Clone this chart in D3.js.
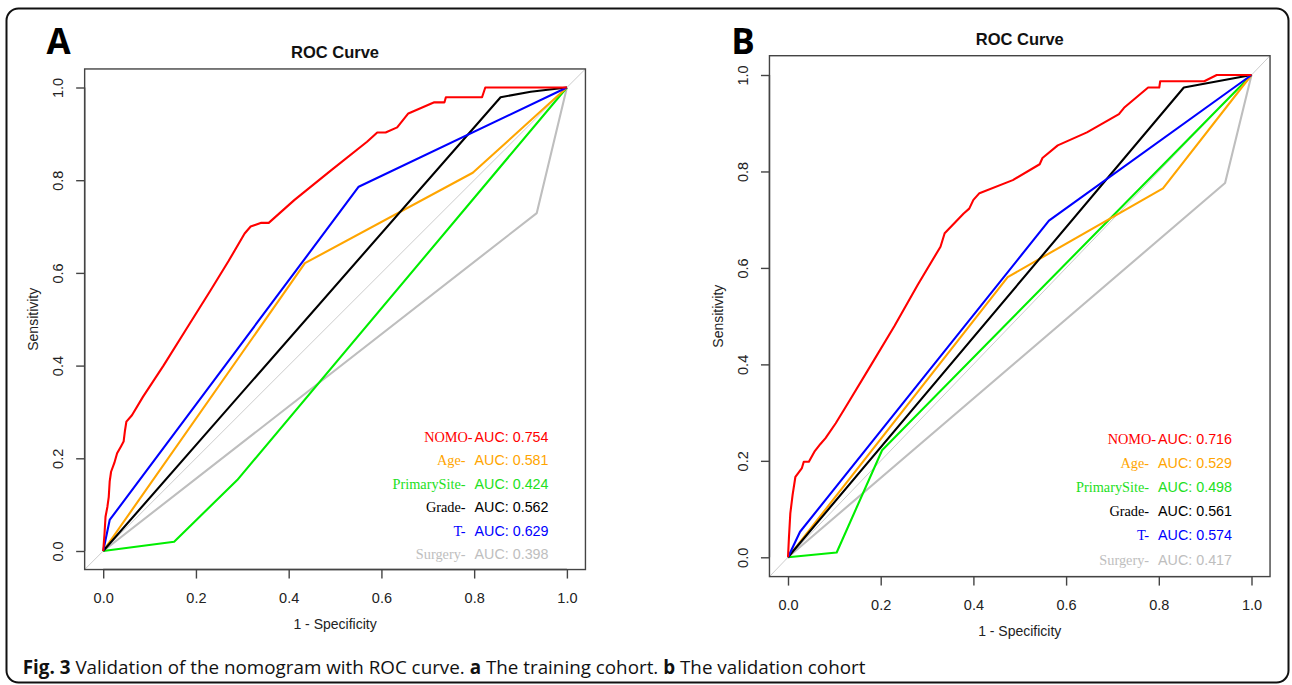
<!DOCTYPE html>
<html>
<head>
<meta charset="utf-8">
<script src="https://cdn.jsdelivr.net/npm/d3@7/dist/d3.min.js"></script>
<style>
  html, body { margin: 0; padding: 0; background: #fff; }
  svg { display: block; }
</style>
</head>
<body>
<svg id="chart" width="1292" height="685"></svg>
<script>
// ---------------- DATA ----------------
const seriesNames   = ["NOMO", "Age", "PrimarySite", "Grade", "T", "Surgery"];
const legendLabels  = ["NOMO-", "Age-", "PrimarySite-", "Grade-", "T-", "Surgery-"];
const seriesColors  = ["#FF0000", "#FFA500", "#00EE00", "#000000", "#0000FF", "#BEBEBE"];
const aucTrain      = ["0.754", "0.581", "0.424", "0.562", "0.629", "0.398"];
const aucValid      = ["0.716", "0.529", "0.498", "0.561", "0.574", "0.417"];
const tickValues    = [0, 0.2, 0.4, 0.6, 0.8, 1.0];
const tickLabels    = ["0.0", "0.2", "0.4", "0.6", "0.8", "1.0"];
const panelLetters  = ["A", "B"];
const plotTitle     = "ROC Curve";
const xTitle        = "1 - Specificity";
const yTitle        = "Sensitivity";

// Training cohort (panel A): [1 - specificity, sensitivity]
const trainNOMO = [[0,0],[0.003,0.04],[0.005,0.074],[0.009,0.095],[0.012,0.117],[0.014,0.15],[0.017,0.171],
  [0.024,0.19],[0.030,0.211],[0.038,0.225],[0.044,0.236],[0.047,0.26],[0.05,0.279],[0.062,0.293],[0.086,0.333],
  [0.13,0.40],[0.18,0.48],[0.23,0.56],[0.27,0.625],[0.305,0.685],[0.318,0.700],[0.341,0.708],[0.357,0.708],
  [0.412,0.757],[0.49,0.82],[0.569,0.883],[0.591,0.903],[0.609,0.903],[0.634,0.914],[0.658,0.944],[0.714,0.968],
  [0.736,0.968],[0.739,0.979],[0.817,0.979],[0.824,1.0],[1,1]];
const trainAge     = [[0,0],[0.435,0.621],[0.797,0.816],[1,1]];
const trainPS      = [[0,0],[0.153,0.02],[0.251,0.116],[0.289,0.153],[1,1]];
const trainGrade   = [[0,0],[0.857,0.979],[0.922,0.991],[1,1]];
const trainT       = [[0,0],[0.014,0.067],[0.551,0.786],[1,1]];
const trainSurgery = [[0,0],[0.935,0.729],[1,1]];

// Validation cohort (panel B)
const validNOMO = [[0,0],[0.002,0.04],[0.005,0.091],[0.010,0.13],[0.016,0.167],[0.030,0.185],[0.034,0.198],
  [0.045,0.198],[0.057,0.219],[0.070,0.235],[0.081,0.247],[0.103,0.278],[0.129,0.319],[0.18,0.40],[0.23,0.48],
  [0.28,0.565],[0.329,0.644],[0.338,0.672],[0.365,0.699],[0.379,0.713],[0.391,0.723],[0.400,0.741],[0.413,0.755],
  [0.485,0.782],[0.543,0.815],[0.549,0.828],[0.582,0.854],[0.645,0.881],[0.714,0.919],[0.725,0.932],[0.777,0.974],
  [0.801,0.974],[0.803,0.987],[0.898,0.987],[0.925,1.0],[1,1]];
const validAge     = [[0,0],[0.474,0.581],[0.809,0.765],[1,1]];
const validPS      = [[0,0],[0.105,0.01],[0.203,0.222],[1,1]];
const validGrade   = [[0,0],[0.854,0.974],[1,1]];
const validT       = [[0,0],[0.026,0.053],[0.563,0.698],[1,1]];
const validSurgery = [[0,0],[0.943,0.776],[1,1]];

const trainSeries = [trainNOMO, trainAge, trainPS, trainGrade, trainT, trainSurgery];
const validSeries = [validNOMO, validAge, validPS, validGrade, validT, validSurgery];

// ---------------- LAYOUT ----------------
const panels = [
  { series: trainSeries, auc: aucTrain, letter: panelLetters[0],
    x0: 103.2, x1: 566.9, y0: 551.0, y1: 87.5, letterX: 58.5, letterY: 53.5,
    legendRight: 548.5, legendTop: 437, legendStep: 23.4 },
  { series: validSeries, auc: aucValid, letter: panelLetters[1],
    x0: 788.0, x1: 1251.5, y0: 557.3, y1: 75.0, letterX: 743, letterY: 53.5,
    legendRight: 1232, legendTop: 439, legendStep: 24.1 }
];
const drawOrder = [5, 2, 1, 3, 4, 0];

const svg = d3.select("#chart");

// outer frame
svg.append("rect")
  .attr("x", 6.5).attr("y", 8.5).attr("width", 1282).attr("height", 674)
  .attr("rx", 12).attr("ry", 12)
  .attr("fill", "none").attr("stroke", "#111").attr("stroke-width", 2);

panels.forEach(p => {
  const x = d3.scaleLinear().domain([0, 1]).range([p.x0, p.x1]);
  const y = d3.scaleLinear().domain([0, 1]).range([p.y0, p.y1]);
  const bx0 = x(-0.04), bx1 = x(1.04), by0 = y(-0.04), by1 = y(1.04);
  const g = svg.append("g");

  // clip
  const clipId = "clip" + p.letter;
  svg.append("defs").append("clipPath").attr("id", clipId)
    .append("rect").attr("x", bx0).attr("y", by1).attr("width", bx1 - bx0).attr("height", by0 - by1);

  const plot = g.append("g").attr("clip-path", `url(#${clipId})`);

  // diagonal reference
  plot.append("line")
    .attr("x1", x(-0.04)).attr("y1", y(-0.04)).attr("x2", x(1.04)).attr("y2", y(1.04))
    .attr("stroke", "#CCCCCC").attr("stroke-width", 1);

  const line = d3.line().x(d => x(d[0])).y(d => y(d[1]));
  drawOrder.forEach(i => {
    plot.append("path")
      .attr("d", line(p.series[i]))
      .attr("fill", "none")
      .attr("stroke", seriesColors[i])
      .attr("stroke-width", 2.1)
      .attr("stroke-linejoin", "round");
  });

  // box
  g.append("rect")
    .attr("x", bx0).attr("y", by1).attr("width", bx1 - bx0).attr("height", by0 - by1)
    .attr("fill", "none").attr("stroke", "#444").attr("stroke-width", 1.4);

  // x axis
  const xAxis = d3.axisBottom(x).tickValues(tickValues).tickFormat((d, i) => tickLabels[i])
    .tickSize(9).tickPadding(7);
  const xg = g.append("g").attr("transform", `translate(0,${by0})`).call(xAxis);
  xg.select(".domain").attr("stroke", "#444").attr("stroke-width", 1.4)
    .attr("d", `M${x(0)},0H${x(1)}`);
  xg.selectAll(".tick line").attr("stroke", "#444").attr("stroke-width", 1.4);
  xg.selectAll(".tick text")
    .attr("font-family", "Liberation Sans, Arial, sans-serif").attr("font-size", 14.5)
    .attr("fill", "#222").attr("dy", null).attr("y", 0)
    .attr("transform", `translate(0,${27.8 + 5.2})`);

  // y axis
  const yAxis = d3.axisLeft(y).tickValues(tickValues).tickFormat((d, i) => tickLabels[i])
    .tickSize(8.5).tickPadding(0);
  const yg = g.append("g").attr("transform", `translate(${bx0},0)`).call(yAxis);
  yg.select(".domain").attr("stroke", "#444").attr("stroke-width", 1.4)
    .attr("d", `M0,${y(0)}V${y(1)}`);
  yg.selectAll(".tick line").attr("stroke", "#444").attr("stroke-width", 1.4);
  yg.selectAll(".tick text")
    .attr("font-family", "Liberation Sans, Arial, sans-serif").attr("font-size", 14.5)
    .attr("fill", "#222").attr("x", 0).attr("dy", null)
    .attr("text-anchor", "middle")
    .attr("transform", `translate(${-26.5 + 5.2},0) rotate(-90)`);

  // titles
  g.append("text").text(plotTitle)
    .attr("x", (bx0 + bx1) / 2).attr("y", by1 - 17 + 6)
    .attr("text-anchor", "middle")
    .attr("font-family", "Liberation Sans, Arial, sans-serif").attr("font-weight", "bold")
    .attr("font-size", 16.5).attr("fill", "#111");

  g.append("text").text(xTitle)
    .attr("x", (bx0 + bx1) / 2).attr("y", by0 + 54.5 + 5)
    .attr("text-anchor", "middle")
    .attr("font-family", "Liberation Sans, Arial, sans-serif")
    .attr("font-size", 14).attr("fill", "#222");

  g.append("text").text(yTitle)
    .attr("transform", `translate(${bx0 - 51.8 + 5},${(by0 + by1) / 2}) rotate(-90)`)
    .attr("text-anchor", "middle")
    .attr("font-family", "Liberation Sans, Arial, sans-serif")
    .attr("font-size", 14).attr("fill", "#222");

  // panel letter
  g.append("text").text(p.letter)
    .attr("x", p.letterX).attr("y", p.letterY)
    .attr("text-anchor", "middle")
    .attr("font-family", "Open Sans, sans-serif").attr("font-weight", "bold")
    .attr("font-size", 35).attr("fill", "#000");

  // legend
  seriesNames.forEach((name, i) => {
    const t = g.append("text")
      .attr("x", p.legendRight).attr("y", p.legendTop + i * p.legendStep + 5)
      .attr("text-anchor", "end").attr("fill", seriesColors[i] === "#00EE00" ? "#22E022" : seriesColors[i]);
    t.append("tspan").text(legendLabels[i])
      .attr("font-family", "Liberation Serif, Times New Roman, serif").attr("font-size", 14.3);
    t.append("tspan").text("AUC: " + p.auc[i])
      .attr("dx", i === 0 ? 2 : 9)
      .attr("font-family", "Liberation Sans, Arial, sans-serif").attr("font-size", 14.3);
  });
});

// caption
const cap = svg.append("text").attr("x", 22.8).attr("y", 674)
  .attr("font-family", "Open Sans, sans-serif").attr("font-size", 17).attr("fill", "#111");
cap.append("tspan").text("Fig. 3").attr("font-weight", "bold");
cap.append("tspan").text(" Validation of the nomogram with ROC curve. ");
cap.append("tspan").text("a").attr("font-weight", "bold");
cap.append("tspan").text(" The training cohort. ");
cap.append("tspan").text("b").attr("font-weight", "bold");
cap.append("tspan").text(" The validation cohort");
const w = cap.node().getComputedTextLength();
cap.attr("font-size", 17 * 843 / w);
</script>
</body>
</html>
